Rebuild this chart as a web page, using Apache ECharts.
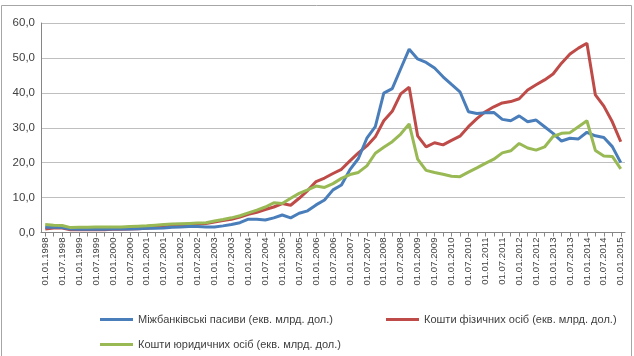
<!DOCTYPE html>
<html><head><meta charset="utf-8">
<script src="https://cdn.jsdelivr.net/npm/echarts@6/dist/echarts.min.js"></script>
<style>html,body{margin:0;padding:0;background:#fff}#c{width:634px;height:356px}</style>
</head><body><div id="c"></div>
<script>
const categories = [
"01.01.1998","01.04.1998","01.07.1998","01.10.1998",
"01.01.1999","01.04.1999","01.07.1999","01.10.1999",
"01.01.2000","01.04.2000","01.07.2000","01.10.2000",
"01.01.2001","01.04.2001","01.07.2001","01.10.2001",
"01.01.2002","01.04.2002","01.07.2002","01.10.2002",
"01.01.2003","01.04.2003","01.07.2003","01.10.2003",
"01.01.2004","01.04.2004","01.07.2004","01.10.2004",
"01.01.2005","01.04.2005","01.07.2005","01.10.2005",
"01.01.2006","01.04.2006","01.07.2006","01.10.2006",
"01.01.2007","01.04.2007","01.07.2007","01.10.2007",
"01.01.2008","01.04.2008","01.07.2008","01.10.2008",
"01.01.2009","01.04.2009","01.07.2009","01.10.2009",
"01.01.2010","01.04.2010","01.07.2010","01.10.2010",
"01.01.2011","01.04.2011","01.07.2011","01.10.2011",
"01.01.2012","01.04.2012","01.07.2012","01.10.2012",
"01.01.2013","01.04.2013","01.07.2013","01.10.2013",
"01.01.2014","01.04.2014","01.07.2014","01.10.2014",
"01.01.2015"];

const interbank = [1.5,1.6,1.4,1.0,0.9,0.9,0.9,0.9,1.0,1.0,1.0,1.1,1.2,1.2,
1.3,1.5,1.6,1.7,1.7,1.6,1.6,
1.9,2.3,2.8,3.8,3.8,3.6,4.2,5.0,4.2,5.5,
6.2,7.9,9.3,12.2,13.6,18.0,21.2,27.0,30.3,39.9,
41.2,46.9,52.5,49.7,48.7,47.1,44.6,42.4,40.3,34.6,
34.1,34.3,34.4,32.4,32.0,33.4,31.7,32.2,30.3,28.4,
26.2,27.0,26.8,28.7,27.7,27.2,24.6,20.0];

const individuals = [1.0,1.3,1.3,0.8,0.8,0.8,0.8,0.8,0.9,0.9,1.0,1.1,1.2,1.4,
1.6,1.8,2.0,2.2,2.4,2.6,3.0,
3.4,3.8,4.4,5.2,5.8,6.6,7.3,8.3,7.8,9.8,
12.0,14.6,15.6,16.9,18.1,20.5,22.8,24.8,27.4,32.0,
34.7,39.7,41.6,27.7,24.5,25.7,25.1,26.4,27.6,30.3,
32.6,34.6,36.0,37.1,37.5,38.3,40.8,42.3,43.7,45.4,
48.5,51.1,52.8,54.2,39.4,36.2,31.7,26.0];

const legalEntities = [2.3,2.1,2.0,1.4,1.5,1.5,1.6,1.6,1.6,1.6,1.7,1.8,1.9,2.1,
2.3,2.4,2.5,2.6,2.7,2.8,3.3,
3.7,4.2,4.8,5.6,6.4,7.3,8.5,8.3,9.8,11.2,
12.2,13.3,12.9,14.0,15.5,16.6,17.2,19.1,22.7,24.4,
26.0,28.2,31.1,21.0,17.8,17.2,16.7,16.1,16.0,17.3,
18.5,19.8,21.0,22.8,23.4,25.5,24.2,23.6,24.5,27.5,
28.4,28.6,30.3,32.0,23.5,21.9,21.8,18.2];

const names = ["Міжбанківські пасиви (екв. млрд. дол.)","Кошти фізичних осіб (екв. млрд. дол.)","Кошти юридичних осіб (екв. млрд. дол.)"];
const colors = ["#4A7EBB","#BE4B48","#98B954"];
const FONT = "'Liberation Sans', Arial, sans-serif";

const chart = echarts.init(document.getElementById('c'), null, {renderer:'canvas'});
function lg(name, left, top){
  return {data:[name], left:left, top:top, icon:'rect', itemWidth:33, itemHeight:3,
    textStyle:{fontFamily:FONT, fontSize:11, color:'#404040'}, padding:0};
}
chart.setOption({
  animation:false,
  color: colors,
  graphic:[{type:'rect', shape:{x:1.5,y:5.5,width:630,height:360}, style:{fill:'none',stroke:'#a6a6a6',lineWidth:1}, silent:true}],
  grid:{left:41, right:9, top:23, bottom:123.5, containLabel:false},
  legend:[lg(names[0],100,314), lg(names[1],386,314), lg(names[2],100,339)],
  xAxis:{type:'category', data:categories, boundaryGap:true,
    axisLine:{lineStyle:{color:'#868686'}},
    axisTick:{show:true, interval:0, alignWithLabel:true, length:4, lineStyle:{color:'#868686'}},
    axisLabel:{interval:1, rotate:90, fontFamily:FONT, fontSize:9.6, color:'#404040', margin:5},
    splitLine:{show:false}},
  yAxis:{type:'value', min:0, max:60, interval:10,
    axisLine:{show:true, lineStyle:{color:'#868686'}},
    axisTick:{show:false},
    axisLabel:{fontFamily:FONT, fontSize:11.5, color:'#404040', margin:6,
      formatter:v=>v.toFixed(1).replace('.',',')},
    splitLine:{lineStyle:{color:'#bfbfbf', width:1}}},
  series:[
    {name:names[0], type:'line', data:interbank, showSymbol:false, symbol:'none', lineStyle:{width:3}, z:3},
    {name:names[1], type:'line', data:individuals, showSymbol:false, symbol:'none', lineStyle:{width:3}, z:2},
    {name:names[2], type:'line', data:legalEntities, showSymbol:false, symbol:'none', lineStyle:{width:3}, z:4}
  ]
});
</script></body></html>
